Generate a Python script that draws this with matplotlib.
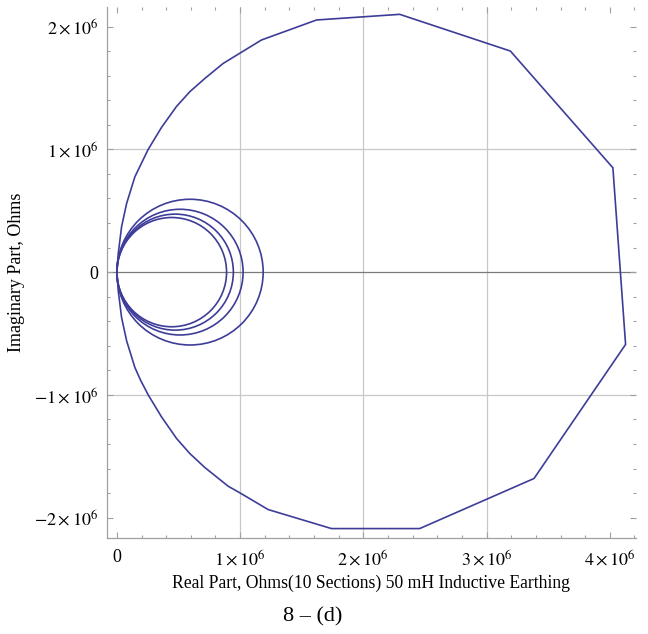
import matplotlib
matplotlib.use("Agg")
import matplotlib.pyplot as plt
from matplotlib.patches import Circle
from matplotlib.ticker import FixedLocator, MultipleLocator

# outer locus, units of 1e6 ohm
big_re = [0, 0.011, 0.038, 0.079, 0.146, 0.254, 0.362, 0.484, 0.592, 0.714, 0.862,
          1.173, 1.620, 2.295, 3.193, 4.025, 4.128, 3.385, 2.457, 1.741, 1.227, 0.998,
          0.903, 0.714, 0.592, 0.484, 0.362, 0.254, 0.192, 0.146, 0.079, 0.038, 0.011, 0]
big_im = [0, 0.152, 0.370, 0.560, 0.777, 1.000, 1.179, 1.350, 1.470, 1.578, 1.700,
          1.891, 2.054, 2.100, 1.801, 0.850, -0.589, -1.681, -2.089, -2.089, -1.934, -1.798,
          -1.744, -1.592, -1.478, -1.355, -1.179, -1.000, -0.880, -0.777, -0.560, -0.370, -0.152, 0]

# small loci: diameters of the circles through the origin, units of 1e6 ohm
circle_diam = [1.187, 1.024, 0.945, 0.890]

x_major = [0, 1, 2, 3, 4]
x_labels = ["0", r"$1\times10^{6}$", r"$2\times10^{6}$", r"$3\times10^{6}$", r"$4\times10^{6}$"]
y_major = [-2, -1, 0, 1, 2]
y_labels = [r"$-2\times10^{6}$", r"$-1\times10^{6}$", "0", r"$1\times10^{6}$", r"$2\times10^{6}$"]

plt.rcParams['font.family'] = ['Liberation Serif', 'DejaVu Serif']
plt.rcParams['mathtext.fontset'] = 'stix'

line_col = '#3d3d99'
spine_col = '#a0a0a0'

fig = plt.figure(figsize=(6.48, 6.34), dpi=100)
ax = fig.add_axes([0.165, 0.151, 0.816, 0.838])

# grid
for gx in [1, 2, 3]:
    ax.axvline(gx, color='#c8c8c8', lw=0.9, zorder=0)
for gy in [-1, 1]:
    ax.axhline(gy, color='#c8c8c8', lw=0.9, zorder=0)
ax.axhline(0, color='#7a7a7a', lw=0.9, zorder=0)

ax.plot(big_re, big_im, color=line_col, lw=1.2, solid_joinstyle='round')
for d in circle_diam:
    ax.add_patch(Circle((d / 2, 0), d / 2, fill=False, ec=line_col, lw=1.2))

ax.set_xlim(-0.081, 4.21)
ax.set_ylim(-2.168, 2.16)

ax.xaxis.set_major_locator(FixedLocator(x_major))
ax.yaxis.set_major_locator(FixedLocator(y_major))
ax.set_xticklabels(x_labels)
ax.set_yticklabels(y_labels)
ax.xaxis.set_minor_locator(MultipleLocator(0.2))
ax.yaxis.set_minor_locator(MultipleLocator(0.2))
ax.tick_params(which='both', direction='in', top=True, right=True, color=spine_col,
               labelsize=13, width=0.8)
ax.tick_params(which='major', length=4)
ax.tick_params(which='minor', length=2.5)
ax.tick_params(axis='x', pad=8)
ax.tick_params(axis='y', pad=6)

for s in ['top', 'right']:
    ax.spines[s].set_visible(False)
for s in ['left', 'bottom']:
    ax.spines[s].set_color(spine_col)
    ax.spines[s].set_linewidth(0.9)

ax.set_xlabel("Real Part, Ohms(10 Sections) 50 mH Inductive Earthing", fontsize=12.7, labelpad=4)
ax.set_ylabel("Imaginary Part, Ohms", fontsize=13)
ax.yaxis.set_label_coords(-0.155, 0.5)

fig.text(0.482, 0.027, "8 \u2013 (d)", fontsize=16, ha='center', va='center')

fig.savefig("out.png", dpi=100)
